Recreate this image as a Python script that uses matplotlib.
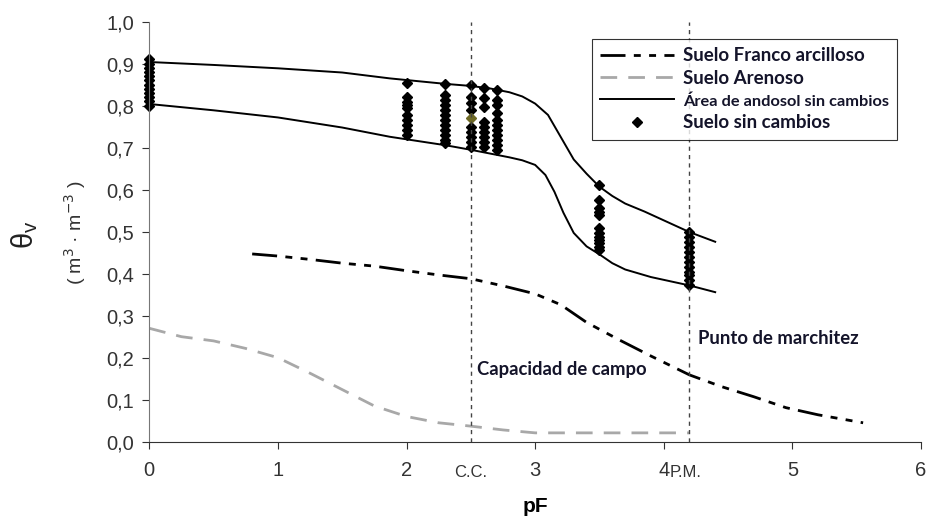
import numpy as np
from matplotlib import pyplot as plt

# Curves (pF vs volumetric water content)
pf_franco = [0.8, 1.0, 1.25, 1.5, 1.75, 2.0, 2.25, 2.5, 2.75, 3.0, 3.2, 3.4, 3.65, 3.9, 4.2, 4.45, 4.7, 4.95, 5.2, 5.55]
theta_franco = [0.447, 0.442, 0.434, 0.425, 0.418, 0.407, 0.397, 0.388, 0.371, 0.352, 0.326, 0.284, 0.243, 0.204,
                0.159, 0.131, 0.107, 0.081, 0.064, 0.045]

pf_arenoso = [0, 0.25, 0.5, 0.75, 1.0, 1.25, 1.5, 1.75, 2.0, 2.25, 2.5, 2.75, 3.0, 4.2]
theta_arenoso = [0.27, 0.25, 0.24, 0.222, 0.20, 0.163, 0.124, 0.085, 0.06, 0.045, 0.037, 0.028, 0.021, 0.021]

pf_andosol_sup = [0, 0.5, 1.0, 1.5, 1.87, 2.3, 2.5, 2.65, 2.8, 2.9, 3.0, 3.1, 3.2, 3.3, 3.4, 3.5, 3.6, 3.7, 3.85,
                  4.0, 4.2, 4.4]
theta_andosol_sup = [0.904, 0.897, 0.889, 0.879, 0.865, 0.852, 0.847, 0.841, 0.832, 0.822, 0.805, 0.778, 0.725,
                     0.672, 0.638, 0.607, 0.585, 0.567, 0.548, 0.527, 0.499, 0.476]

pf_andosol_inf = [0, 0.5, 1.0, 1.5, 1.87, 2.3, 2.5, 2.7, 2.8, 2.9, 3.0, 3.08, 3.15, 3.22, 3.3, 3.4, 3.5, 3.6, 3.7,
                  3.9, 4.2, 4.4]
theta_andosol_inf = [0.804, 0.789, 0.772, 0.748, 0.726, 0.706, 0.695, 0.683, 0.677, 0.67, 0.659, 0.635, 0.595,
                     0.545, 0.497, 0.465, 0.446, 0.425, 0.41, 0.392, 0.372, 0.356]

# Measured points, one list per pF column
muestras = {
    0.0: [0.91, 0.90, 0.89, 0.88, 0.87, 0.86, 0.85, 0.84, 0.83, 0.82, 0.81, 0.80],
    2.0: [0.853, 0.821, 0.809, 0.802, 0.794, 0.778, 0.766, 0.754, 0.743, 0.731],
    2.3: [0.852, 0.825, 0.813, 0.802, 0.790, 0.778, 0.766, 0.754, 0.742, 0.730, 0.718, 0.71],
    2.5: [0.849, 0.821, 0.806, 0.79, 0.75, 0.738, 0.726, 0.714, 0.702],
    2.6: [0.841, 0.818, 0.798, 0.762, 0.75, 0.738, 0.726, 0.714, 0.702],
    2.7: [0.837, 0.814, 0.802, 0.782, 0.766, 0.754, 0.742, 0.730, 0.718, 0.706, 0.695],
    3.5: [0.611, 0.575, 0.556, 0.548, 0.540, 0.508, 0.496, 0.488, 0.480, 0.472, 0.464, 0.456],
    4.2: [0.50, 0.488, 0.476, 0.464, 0.452, 0.44, 0.429, 0.417, 0.405, 0.397, 0.385, 0.373],
}
punto_oliva = (2.5, 0.770)

pf_cc = 2.5
pf_pm = 4.2

x_ticks = [0, 1, 2, 3, 4, 5, 6]
y_ticks = [0.0, 0.1, 0.2, 0.3, 0.4, 0.5, 0.6, 0.7, 0.8, 0.9, 1.0]

TEXT_DARK = "#14142a"

if __name__ == "__main__":
    fig = plt.figure(figsize=(9.26, 5.2), dpi=100)
    ax = fig.add_axes([0.1612, 0.1506, 0.8334, 0.8077])

    ax.plot(pf_franco, theta_franco, color="black", lw=2, dashes=[9, 3, 2.5, 3, 2.5, 3],
            label="Suelo Franco arcilloso")
    ax.plot(pf_arenoso, theta_arenoso, color="#a8a8a8", lw=2, dashes=[6, 4], label="Suelo Arenoso")
    ax.plot(pf_andosol_sup, theta_andosol_sup, color="black", lw=1.4, label="Área de andosol sin cambios")
    ax.plot(pf_andosol_inf, theta_andosol_inf, color="black", lw=1.4)

    first = True
    for pf, values in muestras.items():
        ax.plot([pf] * len(values), values, ls="none", marker="D", ms=4.8, color="black", clip_on=False,
                label="Suelo sin cambios" if first else None)
        first = False
    ax.plot(*punto_oliva, ls="none", marker="D", ms=4.8, color="#6f6a25")

    for pf in (pf_cc, pf_pm):
        ax.axvline(pf, color="#444444", lw=1, dashes=[3, 3])

    ax.set_xlim(0, 6)
    ax.set_ylim(0, 1.0)
    ax.spines["top"].set_visible(False)
    ax.spines["right"].set_visible(False)
    ax.spines["left"].set_color("#777777")
    ax.spines["bottom"].set_color("#333333")

    ax.set_yticks(y_ticks, [f"{v:.1f}".replace(".", ",") for v in y_ticks])
    ax.set_xticks(x_ticks, [str(v) for v in x_ticks])
    ax.tick_params(labelsize=14.5, colors="#333333", length=5, pad=6, labelfontfamily="Liberation Sans")
    ax.tick_params(axis="x", pad=9)

    # Extra labels for field capacity and wilting point under the axis
    ax.text(pf_cc, -0.055, "C.C.", transform=ax.get_xaxis_transform(), ha="center", va="top",
            fontsize=12, color="#333333", family="Liberation Sans")
    ax.text(pf_pm - 0.03, -0.055, "P.M.", transform=ax.get_xaxis_transform(), ha="center", va="top",
            fontsize=12, color="#333333", family="Liberation Sans")

    ax.set_xlabel("pF", fontsize=15, fontweight="bold", family="Liberation Sans", labelpad=12)
    fig.text(0.027, 0.548, r"θ$_\mathregular{v}$", rotation=90, ha="center", va="center", fontsize=21,
             family="Liberation Sans", color="#222222")
    fig.text(0.081, 0.552, "( m$^3$ · m$^{-3}$ )", rotation=90, ha="center", va="center", fontsize=14,
             family="Liberation Sans", color="#333333")

    ax.text(2.55, 0.171, "Capacidad de campo", fontsize=13.3, fontweight="bold", family="Lato",
            va="center", color=TEXT_DARK)
    ax.text(4.27, 0.246, "Punto de marchitez", fontsize=13.3, fontweight="bold", family="Lato",
            va="center", color=TEXT_DARK)

    leg = ax.legend(loc="upper left", bbox_to_anchor=(0.5737, 0.959), borderaxespad=0, frameon=True,
                    fancybox=False, edgecolor="black", handlelength=3.9, handletextpad=0.5, borderpad=0.45,
                    labelspacing=0.3, prop={"family": "Lato", "weight": "bold", "size": 13.5})
    leg.get_frame().set_linewidth(0.8)
    for t in leg.get_texts():
        t.set_color(TEXT_DARK)
    leg.get_texts()[2].set_fontsize(11.8)

    fig.savefig("out.png", dpi=100)
